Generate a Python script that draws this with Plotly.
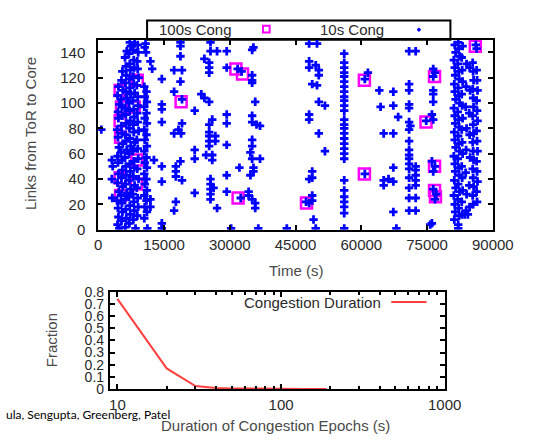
import plotly.graph_objects as go

# ---------------- data ----------------
# 100 s congestion epochs (time in s, links from ToR to core)
cong100_points = [
    (8900, 118), (5000, 110), (5300, 97), (8200, 97), (5000, 86), (5100, 73),
    (8800, 55), (5000, 41), (8700, 36), (5100, 27),
    (18900, 101), (31400, 127), (32900, 123), (31900, 25), (47500, 21),
    (60700, 118), (60700, 44), (74750, 85), (76700, 121), (76700, 50),
    (76700, 31), (76900, 26), (86000, 145),
]

# 10 s congestion epochs, early part of the trace
cong10_early = [
    (700, 79), (3100, 55), (3300, 50), (3100, 40), (3200, 25), (4800, 1),
    (4400, 4), (4600, 10), (4500, 17), (4300, 23), (4700, 30), (4400, 37), (4600, 44), (4500, 53),
    (4400, 58), (4700, 65), (4500, 73), (4300, 79), (4600, 88), (4500, 93), (4800, 99), (4400, 106),
    (4600, 113),
    (5300, 7), (5500, 14), (5400, 21), (5200, 27), (5600, 34), (5300, 41), (5500, 47), (5400, 55),
    (5200, 61), (5600, 68), (5400, 76), (5300, 82), (5500, 90), (5400, 97), (5200, 103), (5600, 110),
    (5300, 118), (5500, 125),
    (6200, 2), (6400, 9), (6300, 16), (6100, 24), (6500, 29), (6200, 36), (6400, 43), (6300, 50),
    (6100, 57), (6500, 63), (6300, 70), (6200, 75), (6400, 84), (6300, 91), (6100, 96), (6500, 104),
    (6300, 109), (6200, 116), (6400, 122), (6300, 129), (6100, 136), (6500, 141),
    (7100, 5), (7300, 12), (7200, 19), (7000, 26), (7400, 32), (7100, 39), (7300, 46), (7200, 52),
    (7000, 60), (7400, 66), (7200, 72), (7100, 80), (7300, 86), (7200, 94), (7000, 100), (7400, 107),
    (7200, 112), (7100, 119), (7300, 126), (7200, 131), (7000, 139), (7400, 145), (7200, 148),
    (8000, 8), (8200, 15), (8100, 22), (7900, 28), (8300, 35), (8000, 42), (8200, 49), (8100, 54),
    (7900, 62), (8300, 69), (8100, 77), (8000, 83), (8200, 89), (8100, 95), (7900, 102), (8300, 108),
    (8100, 115), (8000, 121), (8200, 128), (8100, 134), (7900, 142), (8300, 147),
    (8900, 11), (9100, 18), (9000, 25), (8800, 33), (9200, 40), (8900, 48), (9100, 56), (9000, 64),
    (8800, 71), (9200, 78), (9000, 85), (8900, 92), (9100, 98), (9000, 105), (8800, 114), (9200, 120),
    (9000, 127), (8900, 133), (9100, 140), (9000, 146),
    (10800, 147), (10600, 144), (10900, 140), (11900, 133), (12300, 127), (10500, 113), (11000, 109),
    (10600, 105), (11100, 101), (10500, 97), (11000, 92), (10600, 88), (11100, 84), (10500, 79),
    (11000, 75), (10600, 71), (11100, 66), (10500, 62), (11000, 57), (10600, 53), (11100, 49),
    (10500, 44), (11000, 40), (10600, 36), (11100, 31), (10500, 27), (11000, 23), (10600, 18),
    (11100, 14), (10500, 9), (11200, 1), (8500, 1),
    (14500, 119), (14500, 99), (14500, 95), (14500, 85), (12700, 55), (14500, 50), (14500, 38),
    (11900, 24), (11900, 18), (14500, 5), (14500, 1),
]

# 10 s congestion epochs, middle part of the trace
cong10_mid = [
    (18750, 148), (18750, 145), (18750, 137), (17300, 126), (19100, 126), (18750, 117), (17300, 109),
    (19100, 103), (22000, 94), (19100, 84), (18300, 79), (18900, 76), (17300, 76), (22000, 63),
    (22000, 56), (18750, 54), (17700, 50), (17700, 46), (17700, 42), (19100, 39), (22000, 29),
    (17700, 22), (17300, 15),
    (25600, 148), (25600, 141), (27100, 141), (24200, 135), (25300, 132), (25300, 128), (25300, 124),
    (29300, 141), (29300, 128), (23500, 107), (24200, 104), (25300, 101), (26000, 87), (25300, 83),
    (25300, 77), (25300, 74), (25300, 70), (25300, 66), (26700, 74), (26700, 70), (29300, 91),
    (29300, 84), (29300, 67), (24600, 59), (26000, 59), (26000, 55), (25600, 40), (25600, 36),
    (25600, 32), (25600, 28), (25600, 24), (26300, 33), (27100, 17), (29300, 43), (29300, 30),
    (35400, 144), (35100, 142), (31800, 127), (32700, 125), (35100, 122), (35100, 118), (35100, 116),
    (35800, 101), (35100, 90), (35100, 85), (36100, 83), (36900, 82), (35100, 71), (35100, 66),
    (34700, 61), (35100, 56), (36900, 56), (32200, 49), (35400, 49), (35400, 46), (34700, 43),
    (34300, 30), (34300, 27), (35100, 24), (35800, 21), (35800, 17), (32500, 25),
    (30300, 1), (36500, 1), (43000, 1),
]

# 10 s congestion epochs, late part of the trace
cong10_late = [
    (48100, 147), (49900, 147), (48100, 133), (48100, 128), (49600, 130), (50300, 126), (50300, 122),
    (48800, 115), (49900, 114), (50300, 101), (51700, 98), (48100, 91), (48100, 87), (50300, 76),
    (51700, 62), (48800, 46), (48800, 41), (48100, 40), (48800, 27), (48800, 23), (47400, 22),
    (48100, 21), (49100, 8), (49600, 1),
    (56100, 139), (56100, 132), (56100, 128), (56100, 124), (56100, 121), (56100, 117), (56100, 113),
    (56100, 109), (56100, 105), (56100, 102), (56100, 98), (56100, 94), (56100, 87), (56100, 83),
    (56100, 80), (56100, 76), (56100, 72), (56100, 68), (56100, 64), (56100, 60), (56100, 56),
    (56100, 39), (56100, 31), (56100, 26), (56100, 22), (56100, 18), (56100, 13), (56100, 1),
    (70900, 141), (72400, 141), (61500, 124), (60800, 119), (64100, 110), (67300, 109), (70900, 115),
    (70900, 110), (64400, 97), (67300, 98), (70900, 99), (70900, 96), (68400, 89), (70900, 85),
    (71200, 82), (70900, 79), (65100, 76), (67300, 76), (70900, 70), (70900, 63), (70900, 59),
    (70900, 56), (70900, 52), (72400, 50), (72400, 47), (72400, 43), (72400, 39), (72400, 35),
    (70900, 48), (70900, 41), (70900, 33), (67300, 49), (65100, 39), (66200, 40), (67300, 38),
    (65100, 35), (60800, 44), (70900, 25), (72400, 25), (70900, 15), (72400, 15), (67300, 14),
    (68000, 1), (75700, 4),
    (76400, 127), (76800, 124), (76400, 121), (76400, 110), (76400, 107), (76400, 101), (76100, 91),
    (76400, 87), (76100, 54), (76800, 50), (76400, 46), (76400, 32), (77100, 28), (76800, 24),
    (76100, 5), (74800, 86),
]

# 10 s congestion epochs, dense band at the end of the trace
cong10_end = [
    (81200, 8), (81400, 14), (81300, 20), (81100, 27), (81500, 33), (81200, 39), (81400, 46),
    (81300, 52), (81100, 58), (81500, 65), (81300, 71), (81200, 77), (81400, 84), (81300, 90),
    (81100, 96), (81500, 103), (81300, 109), (81200, 115), (81400, 122), (81300, 128), (81100, 134),
    (81500, 140), (81300, 146),
    (82100, 4), (82300, 11), (82200, 17), (82000, 24), (82400, 30), (82100, 36), (82300, 43),
    (82200, 49), (82000, 56), (82400, 62), (82200, 68), (82100, 74), (82300, 81), (82200, 87),
    (82000, 93), (82400, 100), (82200, 106), (82100, 112), (82300, 119), (82200, 125), (82000, 131),
    (82400, 137), (82200, 143), (82100, 148),
    (83000, 12), (82900, 22), (83100, 31), (83000, 41), (82900, 50), (83100, 60), (83000, 69),
    (82900, 79), (83100, 88), (83000, 98), (82900, 107), (83100, 117), (83000, 126), (82900, 136),
    (83100, 145),
    (83900, 15), (84000, 28), (83800, 45), (83900, 63), (84000, 80), (83800, 97), (83900, 113),
    (84000, 131),
    (84700, 18), (84600, 35), (84800, 57), (84700, 75), (84600, 92), (84800, 110), (84700, 128),
    (85500, 20), (85400, 27), (85600, 34), (85500, 41), (85400, 48), (85600, 55), (85500, 62),
    (85400, 69), (85600, 76), (85500, 83), (85400, 90), (85600, 97), (85500, 104), (85400, 111),
    (85600, 118), (85500, 125), (85400, 132),
    (86400, 22), (86300, 30), (86500, 38), (86400, 46), (86300, 54), (86500, 62), (86400, 70),
    (86300, 78), (86500, 86), (86400, 94), (86300, 102), (86500, 110), (86400, 118), (86300, 126),
    (86100, 146), (86300, 143),
    (82100, 1), (83600, 12), (84300, 12),
]

# Distribution of congestion epoch durations
duration_s = [10, 20, 30, 40, 50, 60, 70, 80, 90, 100, 110, 120, 130, 140, 150, 160, 170, 180, 190]
fraction = [0.74, 0.17, 0.025, 0.01, 0.006, 0.004, 0.003, 0.003, 0.002, 0.002,
            0.001, 0.001, 0.001, 0.001, 0.001, 0.0005, 0.0005, 0.0005, 0.0005]

time_ticks = [0, 15000, 30000, 45000, 60000, 75000, 90000]
link_ticks = [0, 20, 40, 60, 80, 100, 120, 140]
frac_ticks = [0, 0.1, 0.2, 0.3, 0.4, 0.5, 0.6, 0.7, 0.8]
dur_ticks = [10, 100, 1000]

# ---------------- build ----------------
cong10 = cong10_early + cong10_mid + cong10_late + cong10_end
time_10s = [p[0] for p in cong10]
links_10s = [p[1] for p in cong10]
time_100s = [p[0] for p in cong100_points]
links_100s = [p[1] for p in cong100_points]

W, H = 542, 441
def fx(px):
    return px / W
def fy(py):
    return 1 - py / H

FONT = "Liberation Sans"
TICKC = "#2a2a2a"
TITLEC = "#4a4a4a"

fig = go.Figure()
fig.add_trace(go.Scatter(
    x=time_100s, y=links_100s, mode="markers", name="100s Cong",
    marker=dict(symbol="square-open", size=11, color="#ff00ff",
                line=dict(width=2.5, color="#ff00ff")),
    xaxis="x", yaxis="y", showlegend=False))
fig.add_trace(go.Scatter(
    x=time_10s, y=links_10s, mode="markers", name="10s Cong",
    marker=dict(symbol="cross", size=7, color="#0000ff", line=dict(width=0)),
    xaxis="x", yaxis="y", showlegend=False))
fig.add_trace(go.Scatter(
    x=duration_s, y=fraction, mode="lines", name="Congestion Duration",
    line=dict(color="#ff4040", width=2),
    xaxis="x2", yaxis="y2", showlegend=False))

axis_common = dict(showline=True, linecolor="black", linewidth=2, mirror="ticks",
                   ticks="inside", tickcolor="black", tickwidth=1.5,
                   showgrid=False, zeroline=False)
tickfont15 = dict(family=FONT, size=15, color=TICKC)

fig.update_layout(
    width=W, height=H, autosize=False,
    margin=dict(l=0, r=0, t=0, b=0, pad=0),
    paper_bgcolor="white", plot_bgcolor="white",
    font=dict(family=FONT, size=15, color=TICKC),
    xaxis=dict(domain=[fx(98.8), fx(512.5)], range=[0, 90000], anchor="y",
               tickvals=time_ticks, ticktext=[str(t) for t in time_ticks],
               ticklen=5, ticklabelstandoff=0, tickfont=tickfont15, **axis_common),
    yaxis=dict(domain=[fy(230), fy(33)], range=[0, 150], anchor="x",
               tickvals=link_ticks, ticktext=[str(t) for t in link_ticks],
               ticklen=5, ticklabelstandoff=8, tickfont=tickfont15, **axis_common),
    xaxis2=dict(type="log", domain=[fx(111), fx(462)], range=[0.954, 3.0], anchor="y2",
                tickvals=dur_ticks, ticktext=[str(t) for t in dur_ticks],
                ticklen=5, ticklabelstandoff=1, tickfont=tickfont15,
                minor=dict(ticks="inside", ticklen=3, tickcolor="black",
                           tickvals=[20, 30, 40, 50, 60, 70, 80, 90,
                                     200, 300, 400, 500, 600, 700, 800, 900]),
                **axis_common),
    yaxis2=dict(domain=[fy(395.5), fy(294.3)], range=[0, 0.8], anchor="x2",
                tickvals=frac_ticks, ticktext=["0", "0.1", "0.2", "0.3", "0.4", "0.5", "0.6", "0.7", "0.8"],
                ticklen=5, ticklabelstandoff=1,
                tickfont=dict(family=FONT, size=14, color=TICKC), **axis_common),
)

ann = []
def add_text(text, px, py, size=15, color=TITLEC, angle=0, xanchor="center", family=FONT):
    ann.append(dict(text=text, x=fx(px), y=fy(py), xref="paper", yref="paper",
                    showarrow=False, xanchor=xanchor, yanchor="middle", textangle=angle,
                    font=dict(family=family, size=size, color=color)))

add_text("Links from ToR to Core", 28, 130, angle=-90)
add_text("Time (s)", 306, 272)
add_text("Fraction", 50, 345, angle=-90)
add_text("Duration of Congestion Epochs (s)", 285, 433)
add_text("100s Cong", 201, 22, color=TICKC)
add_text("10s Cong", 365, 22, color=TICKC)
add_text("Congestion Duration", 397, 306, color=TICKC, xanchor="right")
add_text("ula, Sengupta, Greenberg, Patel", 0, 422, size=12, color="black",
         xanchor="left", family="Lato")
fig.update_layout(annotations=ann)

shapes = [
    # top legend frame
    dict(type="rect", xref="paper", yref="paper", x0=fx(150), x1=fx(468), y0=fy(33), y1=fy(13),
         line=dict(color="black", width=2), fillcolor="white", layer="below"),
    # legend key: 100s Cong
    dict(type="rect", xref="paper", yref="paper", x0=fx(271.5), x1=fx(278.5), y0=fy(25.5), y1=fy(18.5),
         line=dict(color="#ff00ff", width=2)),
    # legend key: 10s Cong
    dict(type="circle", xref="paper", yref="paper", x0=fx(433.5), x1=fx(436.5), y0=fy(24), y1=fy(21),
         line=dict(color="#0000ff", width=1), fillcolor="#0000ff"),
    # legend key: Congestion Duration
    dict(type="line", xref="paper", yref="paper", x0=fx(406), x1=fx(443), y0=fy(305), y1=fy(305),
         line=dict(color="#ff4040", width=2)),
]
fig.update_layout(shapes=shapes)

fig.write_html(
    "out.html",
    config={"displayModeBar": False},
    post_script="document.body.style.margin='0';document.body.style.overflow='hidden';",
)
